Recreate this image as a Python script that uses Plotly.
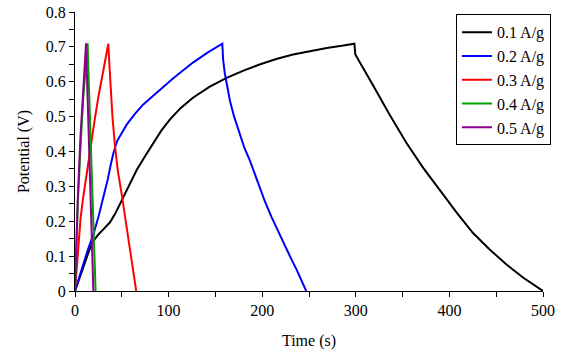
import plotly.graph_objects as go

labels = ["0.1 A/g", "0.2 A/g", "0.3 A/g", "0.4 A/g", "0.5 A/g"]
colors = ["#000000", "#0000FF", "#FF0000", "#00A000", "#8B008B"]

t_01 = [0, 5, 10, 15, 19.6, 25, 30, 37.4, 43, 49.8, 57, 65.9, 75, 83.7, 92, 101.5, 113, 126, 144, 162,
        180, 198, 215, 233, 251, 269, 285, 298.5,
        299.5, 310, 319, 336, 354, 372, 390, 408, 425, 443, 461, 479, 500]
v_01 = [0, 0.04, 0.08, 0.115, 0.143, 0.162, 0.176, 0.197, 0.222, 0.26, 0.3, 0.347, 0.387, 0.423, 0.459, 0.492, 0.525, 0.554, 0.586, 0.611,
        0.632, 0.65, 0.665, 0.678, 0.688, 0.697, 0.703, 0.709,
        0.678, 0.63, 0.587, 0.506, 0.425, 0.353, 0.287, 0.224, 0.167, 0.119, 0.076, 0.038, 0]

t_02 = [0, 4, 8.9, 14, 19.6, 25, 30.3, 35, 38, 41, 45, 50, 55.2, 64, 73, 82, 90, 105, 126, 142, 157.4,
        158.2, 160, 162.5, 165.6, 170, 176, 181, 187, 192, 197, 203, 210, 218, 225, 231, 237, 242, 247]
v_02 = [0, 0.037, 0.077, 0.12, 0.162, 0.212, 0.267, 0.32, 0.36, 0.395, 0.43, 0.455, 0.477, 0.508, 0.535, 0.556, 0.575, 0.61, 0.655, 0.684, 0.709,
        0.665, 0.625, 0.585, 0.545, 0.50, 0.449, 0.41, 0.373, 0.336, 0.30, 0.256, 0.212, 0.165, 0.125, 0.092, 0.06, 0.03, 0]

t_03 = [0, 1, 2.5, 4, 6, 8.3, 10.7, 13.3, 16, 18.7, 21.4, 25, 28.5, 32, 35.6,
        36.5, 38, 40, 42.7, 46, 49.9, 54, 58, 62, 65.4]
v_03 = [0, 0.04, 0.095, 0.15, 0.21, 0.26, 0.306, 0.354, 0.40, 0.45, 0.497, 0.557, 0.611, 0.66, 0.709,
        0.66, 0.59, 0.5, 0.415, 0.34, 0.277, 0.2, 0.13, 0.06, 0]

t_04 = [0, 1, 3, 6, 9, 12, 13.5, 14, 16, 18, 20, 22]
v_04 = [0, 0.1, 0.25, 0.42, 0.56, 0.66, 0.71, 0.66, 0.5, 0.32, 0.15, 0]

t_05 = [0, 1, 3, 6, 9, 11.8, 12.3, 14, 16, 18, 19.6]
v_05 = [0, 0.1, 0.27, 0.45, 0.6, 0.71, 0.66, 0.5, 0.33, 0.15, 0]

series = [(t_01, v_01), (t_02, v_02), (t_03, v_03), (t_04, v_04), (t_05, v_05)]

fig = go.Figure()
for (t, v), name, c in zip(series, labels, colors):
    fig.add_trace(go.Scatter(x=t, y=v, mode="lines", name=name,
                             line=dict(color=c, width=2)))

serif = "Liberation Serif, Times New Roman, serif"
font = dict(family=serif, size=16, color="black")

fig.update_layout(
    width=565, height=350,
    margin=dict(l=75, r=22, t=12, b=59, autoexpand=False),
    paper_bgcolor="white", plot_bgcolor="white",
    font=font,
    showlegend=True,
    legend=dict(x=1.017, y=0.992, xanchor="right", yanchor="top",
                bordercolor="black", borderwidth=1, bgcolor="white",
                font=dict(family=serif, size=16, color="black"),
                itemwidth=30, tracegroupgap=0),
    xaxis=dict(range=[0, 500], dtick=100, tick0=0, showgrid=False, zeroline=False,
               showline=True, linecolor="black", linewidth=1, automargin=False,
               ticks="outside", ticklen=5, tickcolor="black", tickfont=font,
               minor=dict(dtick=50, ticks="outside", ticklen=5, tickcolor="black", showgrid=False),
               title=dict(text="Time (s)", font=font, standoff=16)),
    yaxis=dict(range=[0, 0.8], dtick=0.1, tick0=0, showgrid=False, zeroline=False,
               showline=True, linecolor="black", linewidth=1, automargin=False,
               ticks="outside", ticklen=5, tickcolor="black", tickfont=font,
               minor=dict(dtick=0.05, ticks="outside", ticklen=5, tickcolor="black", showgrid=False),
               title=dict(text="Potential (V)", font=font, standoff=12)),
)

fig.write_html("out.html")
